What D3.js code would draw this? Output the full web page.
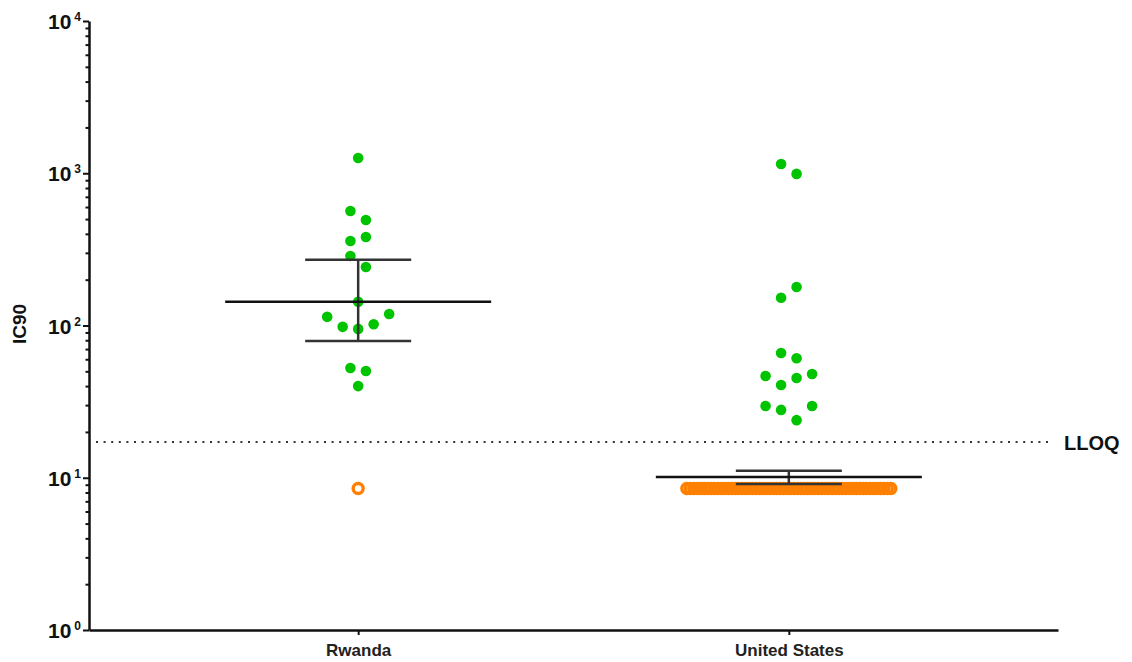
<!DOCTYPE html>
<html>
<head>
<meta charset="utf-8">
<script src="https://cdn.jsdelivr.net/npm/d3@7"></script>
<style>
  body { margin: 0; background: #fff; }
  svg { font-family: "Liberation Sans", Arial, sans-serif; font-weight: bold; }
</style>
</head>
<body>
<svg id="chart_svg" width="1132" height="662"></svg>
<script>
// groups on the x axis
var groups = ["Rwanda", "United States"];

// IC90 values above the LLOQ (green dots)
var rwandaAbove = [1260, 565, 493, 381, 359, 286, 242, 143, 119, 114, 102, 98, 95, 52.6, 50.2, 40];
var usAbove = [1150, 990, 179, 152, 66, 61, 48, 46.6, 45.2, 40.7, 29.6, 29.6, 27.9, 23.9];

// values below the LLOQ, plotted at half LLOQ (orange rings)
var rwandaBelow = [8.5];
var usBelow = [8.5, 8.5, 8.5, 8.5, 8.5, 8.5, 8.5, 8.5, 8.5, 8.5,
               8.5, 8.5, 8.5, 8.5, 8.5, 8.5, 8.5, 8.5, 8.5, 8.5,
               8.5, 8.5, 8.5, 8.5, 8.5, 8.5, 8.5, 8.5, 8.5, 8.5,
               8.5, 8.5, 8.5, 8.5, 8.5, 8.5, 8.5, 8.5, 8.5, 8.5,
               8.5, 8.5, 8.5, 8.5, 8.5, 8.5, 8.5, 8.5, 8.5, 8.5,
               8.5, 8.5, 8.5, 8.5, 8.5, 8.5, 8.5, 8.5, 8.5, 8.5];

// geometric mean with 95% CI
var geoMean = [143, 10.1];
var ciHigh = [270, 11.1];
var ciLow = [79, 9.1];

var lloq = 17.2;
var yTickValues = [1, 10, 100, 1000, 10000];
var yTickPowers = ["0", "1", "2", "3", "4"];

var svg = d3.select("#chart_svg");

var x = d3.scalePoint()
    .domain(groups)
    .range([89, 1058])
    .padding(0.625);

var y = d3.scaleLog()
    .domain([1, 10000])
    .range([630, 21]);

// minor ticks 1..9 per decade
var minorTicks = [];
for (var p = 0; p < 4; p++) {
    for (var m = 1; m < 10; m++) {
        minorTicks.push(m * Math.pow(10, p));
    }
}
minorTicks.push(10000);

var yAxis = svg.append("g")
    .attr("transform", "translate(89,0)")
    .call(d3.axisLeft(y).tickValues(minorTicks).tickFormat("").tickSizeOuter(0));

yAxis.select(".domain").attr("stroke", "#111").attr("stroke-width", 2.5);
yAxis.selectAll(".tick line")
    .attr("stroke", "#111")
    .attr("stroke-width", 2)
    .attr("x2", d => yTickValues.indexOf(d) >= 0 ? -6 : -3.5);

// y tick labels 10^n
yTickValues.forEach(function (v, i) {
    var t = svg.append("text")
        .attr("x", 81)
        .attr("y", y(v) + 8)
        .attr("text-anchor", "end")
        .attr("fill", "#111")
        .style("font-size", "21px")
        .text("10");
    t.append("tspan")
        .attr("dx", 3)
        .attr("dy", -8)
        .style("font-size", "12px")
        .text(yTickPowers[i]);
});

svg.append("text")
    .attr("transform", "translate(26,324) rotate(-90)")
    .attr("text-anchor", "middle")
    .attr("fill", "#111")
    .style("font-size", "19px")
    .text("IC90");

var xAxis = svg.append("g")
    .attr("transform", "translate(0,630)")
    .call(d3.axisBottom(x).tickSize(5).tickSizeOuter(0).tickPadding(9));

xAxis.select(".domain").attr("stroke", "#111").attr("stroke-width", 2.5);
xAxis.selectAll(".tick line").attr("stroke", "#111").attr("stroke-width", 2);
xAxis.selectAll(".tick text")
    .attr("fill", "#222")
    .style("font-size", "17px")
    .style("font-family", "'Liberation Sans', Arial, sans-serif")
    .style("font-weight", "bold");

// LLOQ line
svg.append("line")
    .attr("x1", 96)
    .attr("x2", 1052)
    .attr("y1", y(lloq))
    .attr("y2", y(lloq))
    .attr("stroke", "#333")
    .attr("stroke-width", 2)
    .attr("stroke-dasharray", "2,5.6");

svg.append("text")
    .attr("x", 1064)
    .attr("y", y(lloq) + 8)
    .attr("fill", "#111")
    .style("font-size", "20px")
    .text("LLOQ");

// column scatter like GraphPad: group close points into rows, centre each row
function swarm(values, cx, maxHalf) {
    var pts = values.map(v => ({ v: v, py: y(v) }));
    pts.sort((a, b) => a.py - b.py);
    var rows = [], row = [];
    pts.forEach(function (p, i) {
        if (i > 0 && p.py - pts[i - 1].py >= 12) {
            rows.push(row);
            row = [];
        }
        row.push(p);
    });
    if (row.length) rows.push(row);

    var leftFirst = true;
    rows.forEach(function (r) {
        var n = r.length;
        var step = 15.5;
        if ((n - 1) * step > 2 * maxHalf) step = 2 * maxHalf / (n - 1);
        // slot order: outer slots first, moving inwards; side alternates row to row
        var order = [];
        var lo = 0, hi = n - 1;
        while (lo <= hi) {
            if (leftFirst) {
                order.push(lo);
                if (lo !== hi) order.push(hi);
            } else {
                order.push(hi);
                if (lo !== hi) order.push(lo);
            }
            hi--; lo++;
        }
        if (n > 1) leftFirst = !leftFirst;
        r.forEach(function (p, k) {
            p.px = cx + (order[k] - (n - 1) / 2) * step;
        });
    });
    return pts;
}

var points = svg.append("g");

function drawGroup(i, above, below) {
    var cx = x(groups[i]);
    points.selectAll(null)
        .data(swarm(below, cx, 102))
        .join("circle")
        .attr("cx", d => d.px)
        .attr("cy", d => d.py)
        .attr("r", 5)
        .attr("fill", "none")
        .attr("stroke", "#ff8000")
        .attr("stroke-width", 3.4);

    points.selectAll(null)
        .data(swarm(above, cx, 102))
        .join("circle")
        .attr("cx", d => d.px)
        .attr("cy", d => d.py)
        .attr("r", 5.3)
        .attr("fill", "#00c400");
}

drawGroup(0, rwandaAbove, rwandaBelow);
drawGroup(1, usAbove, usBelow);

// mean and CI bars
var bars = svg.append("g").attr("stroke-width", 2.5);

groups.forEach(function (g, i) {
    var cx = x(g);
    bars.append("line")
        .attr("x1", cx).attr("x2", cx)
        .attr("y1", y(ciHigh[i])).attr("y2", y(ciLow[i]))
        .attr("stroke", "#333");
    bars.append("line")
        .attr("x1", cx - 53).attr("x2", cx + 53)
        .attr("y1", y(ciHigh[i])).attr("y2", y(ciHigh[i]))
        .attr("stroke", "#333");
    bars.append("line")
        .attr("x1", cx - 53).attr("x2", cx + 53)
        .attr("y1", y(ciLow[i])).attr("y2", y(ciLow[i]))
        .attr("stroke", "#333");
    bars.append("line")
        .attr("x1", cx - 133).attr("x2", cx + 133)
        .attr("y1", y(geoMean[i])).attr("y2", y(geoMean[i]))
        .attr("stroke", "#111");
});
</script>
</body>
</html>
